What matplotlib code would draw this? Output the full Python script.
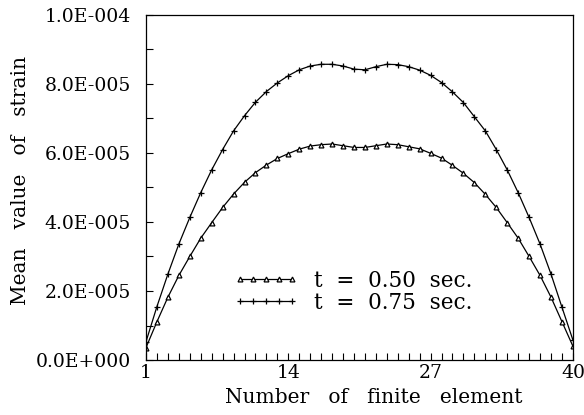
#Mean strain along the finite elements at two times
import matplotlib.pyplot as plt
import numpy as np

#Element numbers 1..40
elements = list(range(1, 41))

#Mean strain (in units of 1e-5)
strain_050 = [0.36, 1.11, 1.82, 2.45, 3.00, 3.53, 3.98, 4.42, 4.81, 5.15,
              5.43, 5.65, 5.84, 5.98, 6.11, 6.20, 6.24, 6.26, 6.21, 6.16,
              6.16, 6.21, 6.26, 6.24, 6.18, 6.12, 5.99, 5.85, 5.64, 5.41,
              5.14, 4.80, 4.42, 3.98, 3.53, 3.00, 2.45, 1.82, 1.11, 0.40]
strain_075 = [0.53, 1.55, 2.49, 3.36, 4.13, 4.85, 5.51, 6.10, 6.64, 7.08,
              7.47, 7.78, 8.03, 8.24, 8.41, 8.52, 8.57, 8.57, 8.52, 8.43,
              8.41, 8.50, 8.57, 8.56, 8.50, 8.40, 8.25, 8.04, 7.77, 7.46,
              7.05, 6.64, 6.10, 5.51, 4.85, 4.13, 3.36, 2.49, 1.53, 0.58]

labels = ['t  =  0.50  sec.', 't  =  0.75  sec.']
ytick_vals = [0, 2e-5, 4e-5, 6e-5, 8e-5, 1e-4]
ytick_labels = ['0.0E+000', '2.0E-005', '4.0E-005', '6.0E-005', '8.0E-005', '1.0E-004']
xtick_vals = [1, 14, 27, 40]

plt.rcParams['font.family'] = ['DejaVu Serif']

fig = plt.figure(figsize=(5.84, 4.15), dpi=100)
ax = fig.add_axes([0.25, 0.1325, 0.731, 0.8315])

y1 = np.array(strain_050) * 1e-5
y2 = np.array(strain_075) * 1e-5

ax.plot(elements, y1, color='black', lw=0.9, marker='^', ms=3.5,
        mfc='white', mec='black', mew=0.9, label=labels[0])
ax.plot(elements, y2, color='black', lw=0.9, marker='+', ms=5,
        mew=0.9, label=labels[1])

ax.set_xlim(1, 40)
ax.set_ylim(0, 1e-4)
ax.set_xticks(xtick_vals)
ax.set_xticks(range(1, 41), minor=True)
ax.set_yticks(ytick_vals)
ax.set_yticklabels(ytick_labels)
ax.set_yticks(np.arange(0, 1.01e-4, 1e-5), minor=True)
ax.tick_params(axis='both', which='both', direction='in', length=5, width=0.8,
               labelsize=13.5)
ax.tick_params(axis='y', pad=11)
ax.tick_params(axis='x', pad=3)

for s in ax.spines.values():
    s.set_linewidth(0.9)

ax.set_xlabel('Number   of   finite   element', fontsize=14.5)
ax.xaxis.set_label_coords(0.534, -0.08)
ax.set_ylabel('Mean   value   of   strain', fontsize=14.5)
ax.yaxis.set_label_coords(-0.272, 0.52)

ax.legend(loc='upper left', bbox_to_anchor=(0.18, 0.292), frameon=False,
          numpoints=5, handlelength=3.0, fontsize=15.5, handletextpad=0.75,
          labelspacing=0.0, borderpad=0)

fig.savefig('out.png', dpi=100)
